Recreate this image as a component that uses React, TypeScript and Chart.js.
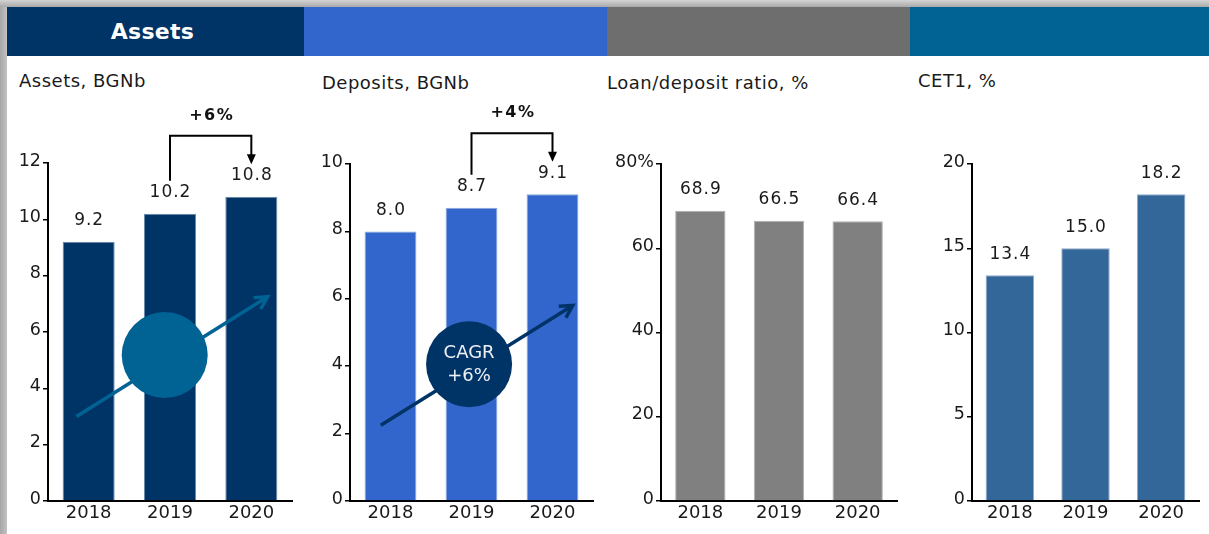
import React, { useEffect, useRef } from "react";
import { Chart, registerables } from "chart.js";

Chart.register(...registerables);

const FONT = '"DejaVu Sans", Verdana, sans-serif';

// ---------------- data ----------------
const years = ["2018", "2019", "2020"];
const assetsBGNb = [9.2, 10.2, 10.8];
const depositsBGNb = [8.0, 8.7, 9.1];
const loanDepositRatio = [68.9, 66.5, 66.4];
const cet1Ratio = [13.4, 15.0, 18.2];

const assetsTicks = { max: 12, step: 2, topSuffix: "" };
const depositsTicks = { max: 10, step: 2, topSuffix: "" };
const loanDepositTicks = { max: 80, step: 20, topSuffix: "%" };
const cet1Ticks = { max: 20, step: 5, topSuffix: "" };

const sectionTitles = ["Assets", "", "", ""];
const chartSubtitles = ["Assets, BGNb", "Deposits, BGNb", "Loan/deposit ratio, %", "CET1, %"];

const assetsYoY = "+6%";
const depositsYoY = "+4%";
const assetsBadgeText: string[] = [];
const depositsBadgeText = ["CAGR", "+6%"];

// trend arrows / badges in data units: [category index, value]
const assetsTrendStart = [-0.15, 3.0];
const assetsTrendEnd = [2.2, 7.25];
const assetsBadgeAt = [0.935, 5.18];
const depositsTrendStart = [-0.12, 2.25];
const depositsTrendEnd = [2.25, 5.8];
const depositsBadgeAt = [0.97, 4.06];

// ---------------- layout / style ----------------
type Panel = {
  values: number[];
  ticks: { max: number; step: number; topSuffix: string };
  color: string;
  edge: string;
  left: number;
  width: number;
  axisW: number;
  padTop: number;
  padRight: number;
  yoy?: { from: number; to: number; label: string };
  trend?: { start: number[]; end: number[]; badge: number[]; color: string; text: string[] };
};

const CANVAS_TOP = 95;
const CANVAS_H = 534 - CANVAS_TOP;

const panels: Panel[] = [
  {
    values: assetsBGNb, ticks: assetsTicks, color: "#003366", edge: "#6f8cab",
    left: 7, width: 298, axisW: 41, padTop: 68, padRight: 13,
    yoy: { from: 1, to: 2, label: assetsYoY },
    trend: { start: assetsTrendStart, end: assetsTrendEnd, badge: assetsBadgeAt, color: "#006394", text: assetsBadgeText },
  },
  {
    values: depositsBGNb, ticks: depositsTicks, color: "#3366CC", edge: "#8aa8e0",
    left: 305, width: 302, axisW: 45, padTop: 69, padRight: 14,
    yoy: { from: 1, to: 2, label: depositsYoY },
    trend: { start: depositsTrendStart, end: depositsTrendEnd, badge: depositsBadgeAt, color: "#003366", text: depositsBadgeText },
  },
  {
    values: loanDepositRatio, ticks: loanDepositTicks, color: "#808080", edge: "#b0b0b0",
    left: 607, width: 303, axisW: 54, padTop: 69, padRight: 13,
  },
  {
    values: cet1Ratio, ticks: cet1Ticks, color: "#336699", edge: "#8eaacb",
    left: 910, width: 299, axisW: 62, padTop: 69, padRight: 10,
  },
];

const headerColors = ["#003366", "#3366CC", "#6E6E6E", "#006394"];
const headerBounds = [
  [7, 304],
  [304, 607],
  [607, 910],
  [910, 1209],
];
const subtitlePos = [
  [19, 72],
  [322, 74],
  [607, 74],
  [918, 72],
];

// ---------------- plugins ----------------
const valueLabelsPlugin = {
  id: "valueLabels",
  afterDatasetsDraw(chart: any) {
    const ctx = chart.ctx;
    const meta = chart.getDatasetMeta(0);
    const data = chart.data.datasets[0].data as number[];
    ctx.save();
    ctx.font = `17px ${FONT}`;
    try {
      (ctx as any).letterSpacing = "1px";
    } catch (e) {}
    ctx.fillStyle = "#1a1a1a";
    ctx.textAlign = "center";
    ctx.textBaseline = "middle";
    meta.data.forEach((bar: any, i: number) => {
      ctx.fillText(Number(data[i]).toFixed(1), bar.x + 0.5, bar.y - 21);
    });
    ctx.restore();
  },
};

function annotationPlugin(p: Panel) {
  return {
    id: "annotations",
    afterDatasetsDraw(chart: any) {
      const ctx = chart.ctx;
      const xs = chart.scales.x;
      const ys = chart.scales.y;
      ctx.save();
      if (p.trend) {
        const t = p.trend;
        const sx = xs.getPixelForValue(t.start[0]);
        const sy = ys.getPixelForValue(t.start[1]);
        const ex = xs.getPixelForValue(t.end[0]);
        const ey = ys.getPixelForValue(t.end[1]);
        ctx.strokeStyle = t.color;
        ctx.lineWidth = 3.5;
        ctx.lineCap = "butt";
        ctx.beginPath();
        ctx.moveTo(sx, sy);
        ctx.lineTo(ex, ey);
        ctx.stroke();
        const ang = Math.atan2(ey - sy, ex - sx);
        const hl = 14;
        ctx.beginPath();
        ctx.moveTo(ex - hl * Math.cos(ang - 0.5), ey - hl * Math.sin(ang - 0.5));
        ctx.lineTo(ex, ey);
        ctx.lineTo(ex - hl * Math.cos(ang + 0.5), ey - hl * Math.sin(ang + 0.5));
        ctx.stroke();
        const cx = xs.getPixelForValue(t.badge[0]);
        const cy = ys.getPixelForValue(t.badge[1]);
        ctx.fillStyle = t.color;
        ctx.beginPath();
        ctx.arc(cx, cy, 43, 0, Math.PI * 2);
        ctx.fill();
        if (t.text.length) {
          ctx.fillStyle = "#eef2f7";
          ctx.font = `18px ${FONT}`;
          ctx.textAlign = "center";
          ctx.textBaseline = "middle";
          ctx.fillText(t.text[0], cx, cy - 11);
          if (t.text[1]) ctx.fillText(t.text[1], cx, cy + 12.5);
        }
      }
      if (p.yoy) {
        const y = p.yoy;
        const x1 = xs.getPixelForValue(y.from);
        const x2 = xs.getPixelForValue(y.to);
        const legBottom = ys.getPixelForValue(p.values[y.from]) - 33;
        const tip = ys.getPixelForValue(p.values[y.to]) - 32.5;
        const yh = Math.min(legBottom, tip) - 28.5;
        ctx.strokeStyle = "#000";
        ctx.fillStyle = "#000";
        ctx.lineWidth = 2;
        ctx.lineJoin = "miter";
        ctx.beginPath();
        ctx.moveTo(x1, legBottom);
        ctx.lineTo(x1, yh);
        ctx.lineTo(x2, yh);
        ctx.lineTo(x2, tip - 8);
        ctx.stroke();
        ctx.beginPath();
        ctx.moveTo(x2 - 4.5, tip - 10);
        ctx.lineTo(x2 + 4.5, tip - 10);
        ctx.lineTo(x2, tip);
        ctx.closePath();
        ctx.fill();
        ctx.font = `bold 16px ${FONT}`;
        try {
          (ctx as any).letterSpacing = "1.5px";
        } catch (e) {}
        ctx.textAlign = "center";
        ctx.textBaseline = "middle";
        ctx.fillStyle = "#111";
        ctx.fillText(y.label, (x1 + x2) / 2 + 1, yh - 20);
      }
      ctx.restore();
    },
  };
}

// ---------------- components ----------------
function BarPanel({ p }: { p: Panel }) {
  const ref = useRef<HTMLCanvasElement | null>(null);
  useEffect(() => {
    if (!ref.current) return;
    const chart = new Chart(ref.current, {
      type: "bar",
      data: {
        labels: years,
        datasets: [
          {
            data: p.values,
            backgroundColor: p.color,
            borderColor: p.edge,
            borderWidth: { top: 1, left: 1, right: 1, bottom: 0 },
            borderSkipped: "bottom",
            categoryPercentage: 1,
            barPercentage: 0.64,
          } as any,
        ],
      },
      options: {
        responsive: false,
        maintainAspectRatio: false,
        animation: false,
        devicePixelRatio: 1,
        layout: { padding: { top: p.padTop, right: p.padRight, left: 0, bottom: 0 } },
        plugins: {
          legend: { display: false },
          tooltip: { enabled: false },
          title: { display: false },
        },
        scales: {
          x: {
            type: "category",
            offset: true,
            grid: { display: false, drawTicks: false },
            border: { display: true, color: "#000", width: 2 },
            ticks: {
              color: "#1a1a1a",
              font: { family: FONT, size: 18 },
              padding: 2,
              maxRotation: 0,
              autoSkip: false,
            },
            afterFit: (s: any) => {
              s.height = 33;
            },
          },
          y: {
            min: 0,
            max: p.ticks.max,
            ticks: {
              stepSize: p.ticks.step,
              color: "#1a1a1a",
              font: { family: FONT, size: 17.5 },
              padding: 2,
              labelOffset: -2,
              callback: (v: any) => (Number(v) === p.ticks.max ? `${v}${p.ticks.topSuffix}` : `${v}`),
            },
            grid: {
              display: true,
              drawOnChartArea: false,
              drawTicks: true,
              tickLength: 5,
              color: "#000",
              lineWidth: 1.5,
            },
            border: { display: true, color: "#000", width: 2 },
            afterFit: (s: any) => {
              s.width = p.axisW;
            },
          },
        },
      } as any,
      plugins: [valueLabelsPlugin, annotationPlugin(p)],
    });
    return () => chart.destroy();
  }, [p]);
  return (
    <canvas
      ref={ref}
      width={p.width}
      height={CANVAS_H}
      style={{ position: "absolute", left: p.left, top: CANVAS_TOP, width: p.width, height: CANVAS_H }}
    />
  );
}

export default function App() {
  return (
    <div
      style={{
        position: "absolute",
        left: 0,
        top: 0,
        width: 1209,
        height: 534,
        background: "#fff",
        overflow: "hidden",
        fontFamily: FONT,
      }}
    >
      <div
        style={{
          position: "absolute",
          left: 0,
          top: 0,
          width: 7,
          height: 534,
          background: "linear-gradient(to right, #a6a6a6, #c2c2c2)",
        }}
      />
      <div
        style={{
          position: "absolute",
          left: 0,
          top: 0,
          width: 1209,
          height: 7,
          background: "linear-gradient(to bottom, #d4d4d4, #a9a9a9)",
        }}
      />
      {headerBounds.map(([a, b], i) => (
        <div
          key={"h" + i}
          style={{
            position: "absolute",
            left: a,
            top: 7,
            width: b - a,
            height: 49,
            background: headerColors[i],
            color: "#fff",
            fontWeight: "bold",
            fontSize: 22,
            lineHeight: "49px",
            textAlign: "center",
            paddingRight: i === 0 ? 6 : 0,
            boxSizing: "border-box",
            letterSpacing: i === 0 ? "0.3px" : undefined,
          }}
        >
          {sectionTitles[i]}
        </div>
      ))}
      {chartSubtitles.map((t, i) => (
        <div
          key={"s" + i}
          style={{
            position: "absolute",
            left: subtitlePos[i][0],
            top: subtitlePos[i][1],
            fontSize: 18,
            lineHeight: "18px",
            letterSpacing: "0.5px",
            color: "#1a1a1a",
            whiteSpace: "nowrap",
          }}
        >
          {t}
        </div>
      ))}
      {panels.map((p, i) => (
        <BarPanel key={"c" + i} p={p} />
      ))}
    </div>
  );
}
